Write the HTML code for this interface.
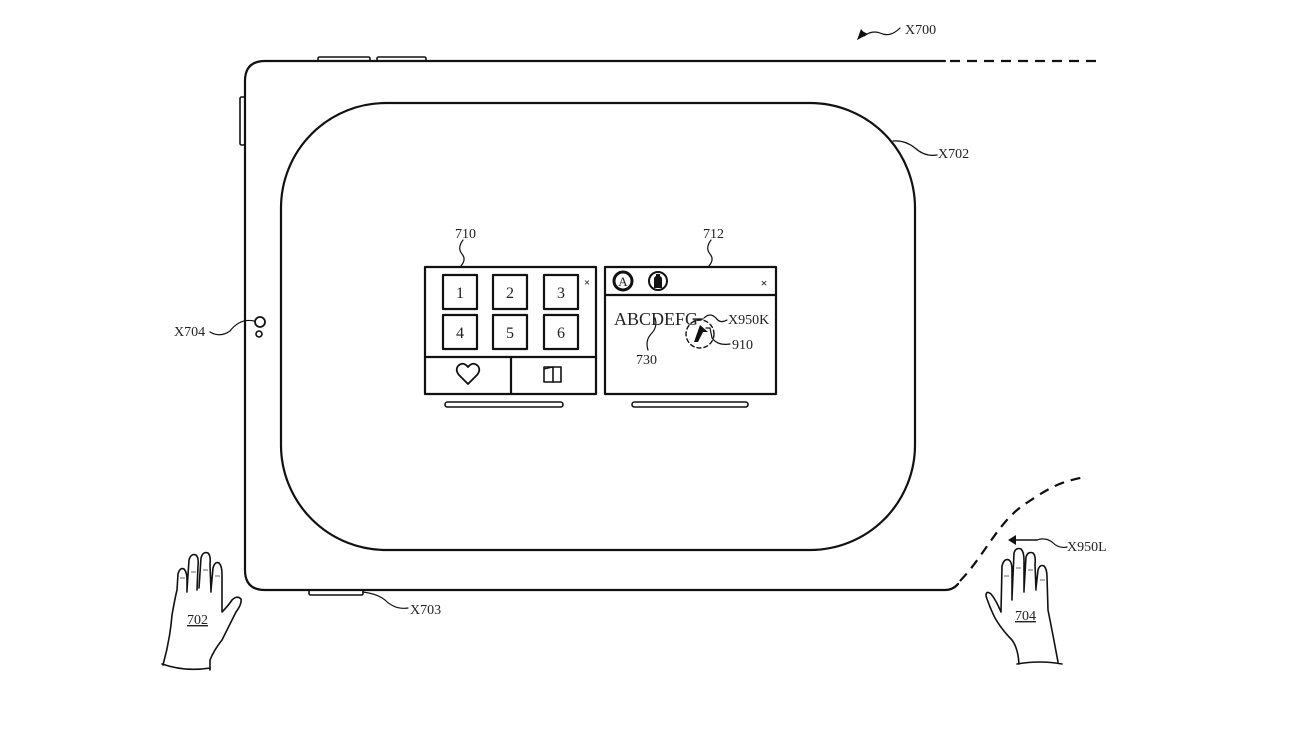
<!DOCTYPE html>
<html><head><meta charset="utf-8"><style>
html,body{margin:0;padding:0;background:#fff;}
svg{display:block;}
text{font-family:"Liberation Serif",serif;fill:#222;}
</style></head><body>
<svg width="1312" height="731" viewBox="0 0 1312 731" xmlns="http://www.w3.org/2000/svg">
<g fill="none" stroke="#111" stroke-width="2.2" stroke-linecap="round" stroke-linejoin="round">
  <!-- device outline -->
  <path d="M945 61 L265 61 Q245 61 245 81 L245 570 Q245 590 265 590 L945 590 Q953 590 958 584"/>
  <path d="M950 61 L1100 61" stroke-dasharray="10 7" stroke-linecap="butt"/>
  <path d="M960 581 C985 555, 998 522, 1025 504 S1060 482, 1085 477" stroke-dasharray="10 7" stroke-linecap="butt"/>
  <!-- buttons -->
  <rect x="318" y="57" width="52" height="4" rx="1.5" stroke-width="1.6"/>
  <rect x="377" y="57" width="49" height="4" rx="1.5" stroke-width="1.6"/>
  <rect x="240" y="97" width="5" height="48" rx="1.5" stroke-width="1.6"/>
  <rect x="309" y="590" width="54" height="5" rx="1.5" stroke-width="1.6"/>
  <!-- inner display -->
  <rect x="281" y="103" width="634" height="447" rx="105" ry="105"/>
  <!-- camera -->
  <circle cx="260" cy="322" r="5" stroke-width="1.8"/>
  <circle cx="259" cy="334" r="3" stroke-width="1.6"/>

  <!-- left window 710 -->
  <rect x="425" y="267" width="171" height="127"/>
  <line x1="425" y1="357" x2="596" y2="357"/>
  <line x1="511" y1="357" x2="511" y2="394"/>
  <rect x="443" y="275" width="34" height="34"/>
  <rect x="493" y="275" width="34" height="34"/>
  <rect x="544" y="275" width="34" height="34"/>
  <rect x="443" y="315" width="34" height="34"/>
  <rect x="493" y="315" width="34" height="34"/>
  <rect x="544" y="315" width="34" height="34"/>
  <path d="M468 384 L459 375 Q455 370 458 366 Q463 361 468 367 Q473 361 478 366 Q481 370 477 375 Z" stroke-width="1.8"/>
  <rect x="544" y="367" width="17" height="15" stroke-width="1.6"/>
  <path d="M553 367 L553 382" stroke-width="1.6"/>
  <path d="M544 369 L553 367" stroke-width="1.2"/>
  <rect x="445" y="402" width="118" height="5" rx="2.5" stroke-width="1.6"/>

  <!-- right window 712 -->
  <rect x="605" y="267" width="171" height="127"/>
  <line x1="605" y1="295" x2="776" y2="295"/>
  <circle cx="623" cy="281" r="9" stroke-width="3"/>
  <circle cx="658" cy="281" r="9" stroke-width="2"/>
  <rect x="632" y="402" width="116" height="5" rx="2.5" stroke-width="1.6"/>

  <!-- leaders -->
  <path d="M463 240 Q457 248 462 254 Q467 260 460 267" stroke-width="1.2"/>
  <path d="M711 240 Q705 248 710 254 Q715 260 708 267" stroke-width="1.2"/>
  <path d="M655 318 Q658 327 651 334 Q645 341 648 350" stroke-width="1.2"/>
  <path d="M693 319 L703 319" stroke-width="1.2"/>
  <path d="M704 318 Q710 312 716 318 Q720 324 727 320" stroke-width="1.2"/>
  <path d="M706 328 L710 328 L712 338 Q718 346 730 344" stroke-width="1.2"/>
  <circle cx="700" cy="334" r="14" stroke-width="1.4" stroke-dasharray="4 3"/>
  <path d="M210 332 Q220 338 230 331 Q240 318 254 321" stroke-width="1.2"/>
  <path d="M363 592 Q378 594 385 600 Q395 610 408 608" stroke-width="1.2"/>
  <path d="M893 141 Q905 140 915 148 Q925 157 937 155" stroke-width="1.2"/>
  <path d="M864 36 Q872 30 880 33 Q890 38 900 28" stroke-width="1.2"/>
  <path d="M1037 540 Q1045 537 1052 542 Q1059 549 1067 547" stroke-width="1.2"/>
  <line x1="1012" y1="540" x2="1037" y2="540" stroke-width="1.6"/>

  <!-- hand 702 -->
  <path d="M163 665 Q170 640 172 615 Q175 598 177 590 L178 574 Q180 567 184 569 Q187 572 187 580 L187 592
           M187 590 L189 560 Q191 553 196 555 Q199 558 198 566 L197 590
           M199 588 L201 558 Q203 551 208 553 Q211 556 210 564 L211 592
           M211 590 L213 568 Q215 561 219 563 Q222 566 222 574 L222 612
           Q228 606 232 600 Q237 595 241 599 Q242 604 236 612 Q228 628 222 640 Q214 650 210 660 L210 670" stroke-width="1.6"/>
  <path d="M162 664 Q185 672 210 668" stroke-width="1.6"/>
  <!-- hand 704 -->
  <path d="M1001 612 L1002 566 Q1004 558 1009 560 Q1012 562 1012 570 L1012 600
           M1012 598 L1014 553 Q1016 547 1021 549 Q1024 552 1024 560 L1024 592
           M1024 590 L1026 557 Q1028 551 1033 553 Q1036 556 1035 564 L1036 590
           M1036 588 L1038 570 Q1040 564 1044 566 Q1047 569 1047 577 L1048 610 Q1053 635 1058 662
           M1001 612 Q996 600 991 594 Q986 590 986 596 Q990 608 995 618 Q1002 630 1012 640 Q1018 648 1019 664" stroke-width="1.6"/>
  <path d="M1017 664 Q1040 660 1062 664" stroke-width="1.6"/>
</g>
<!-- filled marks -->
<g fill="#111" stroke="none">
  <path d="M654 288 L654 279 Q654 277 656 276 L656 274 L660 274 L660 276 Q662 277 662 279 L662 288 Z"/>
  <path d="M694 342 L700 325 L708 332 L703 332 L698 342 Z"/>
  <path d="M857 40 L868 34 L862 31 Z"/>
  <path d="M857 40 L861 29 L866 35 Z"/>
  <path d="M1008 540 L1016 535 L1016 545 Z"/>
</g>
<g fill="none" stroke="#333" stroke-width="0.8">
  <path d="M180 578 L185 578 M191 572 L196 572 M203 570 L208 570 M215 576 L220 576"/>
  <path d="M1004 576 L1009 576 M1016 568 L1021 568 M1028 570 L1033 570 M1040 580 L1045 580"/>
</g>
<!-- text -->
<g font-size="14">
  <text x="905" y="34">X700</text>
  <text x="938" y="158">X702</text>
  <text x="174" y="336">X704</text>
  <text x="410" y="614">X703</text>
  <text x="455" y="238">710</text>
  <text x="703" y="238">712</text>
  <text x="636" y="364">730</text>
  <text x="728" y="324">X950K</text>
  <text x="732" y="349">910</text>
  <text x="1067" y="551">X950L</text>
  <text x="187" y="624" text-decoration="underline">702</text>
  <text x="1015" y="620" text-decoration="underline">704</text>
</g>
<g font-size="16" text-anchor="middle">
  <text x="460" y="298">1</text><text x="510" y="298">2</text><text x="561" y="298">3</text>
  <text x="460" y="338">4</text><text x="510" y="338">5</text><text x="561" y="338">6</text>
</g>
<text x="614" y="325" font-size="18">ABCDEFG</text>
<text x="623" y="286" font-size="13" text-anchor="middle">A</text>
<text x="587" y="286" font-size="11" font-weight="bold" font-family="Liberation Sans, sans-serif" text-anchor="middle">×</text>
<text x="764" y="287" font-size="12" font-weight="bold" font-family="Liberation Sans, sans-serif" text-anchor="middle">×</text>
</svg>
</body></html>
